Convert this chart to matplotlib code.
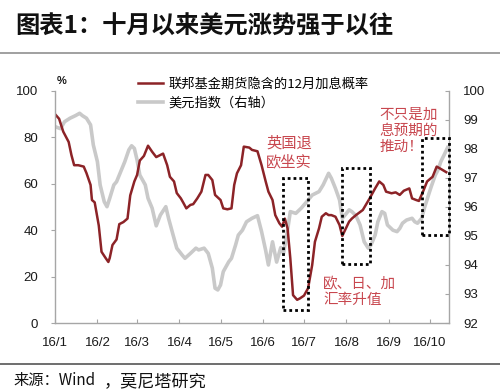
import matplotlib
matplotlib.use('Agg')
import matplotlib.pyplot as plt
import matplotlib.dates as mdates
import pandas as pd
from matplotlib.lines import Line2D
from matplotlib.patches import Rectangle

plt.rcParams['font.family'] = ['Liberation Sans', 'Noto Sans CJK SC', 'DejaVu Sans']

# ---------------- data ----------------
prob_dates = ['01-01', '01-04', '01-07', '01-11', '01-13', '01-15', '01-18', '01-22', '01-24', '01-27',
              '01-28', '01-30', '02-02', '02-04', '02-07', '02-09', '02-10', '02-12', '02-15', '02-17',
              '02-20', '02-23', '02-25', '02-28', '03-01', '03-03', '03-06', '03-09', '03-12', '03-15',
              '03-20', '03-23', '03-25', '03-28', '03-30', '04-02', '04-04', '04-06', '04-09', '04-11',
              '04-14', '04-17', '04-20', '04-22', '04-25', '04-27', '05-01', '05-03', '05-06', '05-09',
              '05-11', '05-13', '05-16', '05-18', '05-22', '05-24', '05-28', '05-31', '06-03', '06-05',
              '06-08', '06-10', '06-13', '06-15', '06-17', '06-19', '06-21', '06-23', '06-26', '06-28',
              '07-01', '07-04', '07-07', '07-09', '07-12', '07-14', '07-17', '07-19', '07-21', '07-24',
              '07-27', '07-29', '07-31', '08-03', '08-05', '08-08', '08-13', '08-18', '08-22', '08-25',
              '08-28', '08-30', '09-03', '09-06', '09-09', '09-12', '09-16', '09-18', '09-21', '09-23',
              '09-26', '09-29', '10-03', '10-06', '10-09', '10-13']
prob_values = [90, 88, 82.5, 78, 72.4, 68, 68, 67.4, 64.6, 59.5,
               53, 52, 42, 30.7, 28, 26.3, 28, 33.6, 36, 42.6,
               43.5, 45, 55, 61, 63.8, 70, 72, 76.4, 73.8, 71.5,
               73, 68, 63, 61, 56, 53.7, 51.6, 49.4, 50.9, 51.2,
               53.7, 56.6, 63.8, 63.8, 61.6, 55.2, 53, 49.4, 49, 49.4,
               59.5, 64.5, 68, 76, 75.6, 74.6, 74, 68, 61, 56.6,
               53, 46.5, 43, 41.5, 45, 40.8, 27.9, 12, 10, 10.6,
               11.8, 15, 25, 35, 40.8, 45.8, 47.3, 46.5, 46.5, 45.8,
               42.2, 37.5, 40, 43.7, 45, 46.5, 48.7, 53.7, 58, 61,
               59.5, 56.6, 55.9, 56.3, 55.2, 57, 58, 53.7, 53, 52.6,
               56.6, 61, 63, 67.4, 66.4, 65]

dxy_dates = ['01-01', '01-05', '01-08', '01-12', '01-16', '01-19', '01-21', '01-24', '01-27', '01-29',
             '02-01', '02-03', '02-06', '02-08', '02-10', '02-13', '02-15', '02-19', '02-21', '02-24',
             '02-26', '02-28', '03-01', '03-03', '03-07', '03-09', '03-12', '03-15', '03-18', '03-22',
             '03-24', '03-27', '03-30', '04-03', '04-05', '04-09', '04-13', '04-15', '04-19', '04-22',
             '04-25', '04-27', '04-29', '05-01', '05-03', '05-07', '05-09', '05-12', '05-14', '05-17',
             '05-20', '05-24', '05-28', '05-31', '06-03', '06-05', '06-08', '06-11', '06-14', '06-16',
             '06-19', '06-21', '06-25', '06-29', '07-03', '07-07', '07-12', '07-15', '07-19', '07-21',
             '07-24', '07-27', '07-29', '07-31', '08-03', '08-05', '08-08', '08-11', '08-14', '08-17',
             '08-19', '08-22', '08-24', '08-27', '08-29', '08-31', '09-04', '09-07', '09-09', '09-11',
             '09-14', '09-18', '09-20', '09-22', '09-25', '09-27', '09-30', '10-02', '10-05', '10-07',
             '10-09', '10-12', '10-14']
dxy_values = [98.77, 98.7, 98.94, 99.06, 99.15, 99.23, 99.15, 99.06, 98.83, 98.14,
              97.56, 96.76, 96.18, 96.01, 96.3, 96.76, 96.87, 97.33, 97.56, 97.97,
              98.11, 98.02, 97.62, 97.1, 96.76, 96.3, 95.96, 95.35, 95.72, 96.01,
              95.61, 95.09, 94.58, 94.34, 94.23, 94.4, 94.58, 94.52, 94.58, 94.4,
              93.89, 93.2, 93.14, 93.31, 93.77, 94.11, 94.23, 94.69, 95.03, 95.2,
              95.49, 95.61, 95.7, 95.15, 94.5, 94.0, 94.8, 94.1, 94.6, 94.4,
              95.2, 95.84, 95.78, 95.96, 96.18, 96.41, 96.53, 96.76, 97.16, 96.99,
              96.64, 96.24, 95.61, 95.72, 95.9, 95.84, 95.7, 95.38, 94.8, 94.58,
              94.69, 95.03, 95.49, 95.84, 95.78, 95.38, 95.2, 95.15, 95.26, 95.44,
              95.55, 95.61, 95.49, 95.44, 95.61, 95.96, 96.41, 96.7, 97.1, 97.28,
              97.56, 97.85, 98.05]

month_ticks = ['01-01', '02-01', '03-01', '04-01', '05-01', '06-01', '07-01', '08-01', '09-01', '10-01']
month_labels = ['16/1', '16/2', '16/3', '16/4', '16/5', '16/6', '16/7', '16/8', '16/9', '16/10']
left_ticks = [0, 20, 40, 60, 80, 100]
right_ticks = [92, 93, 94, 95, 96, 97, 98, 99, 100]

label_prob = '联邦基金期货隐含的12月加息概率'
label_dxy = '美元指数（右轴）'
title = '图表1：十月以来美元涨势强于以往'
source_a = '来源：Wind'
source_b = '，莫尼塔研究'

# highlight boxes: (start, end, low, high) on the left axis
boxes = [('06-16', '07-04', 5.6, 62.6),
         ('07-29', '08-18', 25.5, 67.0),
         ('09-25', '10-15', 38.0, 79.7)]


def to_dt(lst):
    return pd.to_datetime(['2016-' + s for s in lst])


RED = '#8c2327'
GRAY = '#c9c9c9'
SPINE = '#a6a6a6'
ANN = '#c8474f'

fig = plt.figure(figsize=(5.0, 3.92), dpi=100)
fig.patch.set_facecolor('white')
ax = fig.add_axes([0.11, 0.176, 0.788, 0.592])
ax2 = ax.twinx()

ax2.plot(to_dt(dxy_dates), dxy_values, color=GRAY, lw=2.6, solid_joinstyle='round')
ax.plot(to_dt(prob_dates), prob_values, color=RED, lw=1.8, solid_joinstyle='round')

ax.set_zorder(ax2.get_zorder() + 1)
ax.patch.set_visible(False)

ax.set_xlim(pd.Timestamp('2016-01-01'), pd.Timestamp('2016-10-15'))
ax.set_ylim(0, 100)
ax2.set_ylim(92, 100)

ax.set_xticks(to_dt(month_ticks))
ax.set_xticklabels(month_labels)
ax.set_yticks(left_ticks)
ax2.set_yticks(right_ticks)

for s in ['top', 'right']:
    ax.spines[s].set_visible(False)
for s in ['top', 'left', 'bottom']:
    ax2.spines[s].set_visible(False)
for s in ['left', 'bottom']:
    ax.spines[s].set_color(SPINE)
    ax.spines[s].set_linewidth(1.0)
ax2.spines['right'].set_color(SPINE)
ax2.spines['right'].set_linewidth(1.0)

ax.tick_params(axis='y', direction='out', length=3, width=0.8, color=SPINE,
               labelsize=9.5, pad=9, labelcolor='#1a1a1a')
ax.tick_params(axis='x', direction='in', length=3, width=0.8, color=SPINE,
               labelsize=9.5, pad=10, labelcolor='#1a1a1a')
ax2.tick_params(axis='y', direction='in', length=3, width=0.8, color=SPINE,
                labelsize=9.5, pad=10, labelcolor='#1a1a1a')

# dotted highlight boxes
for b in boxes:
    x0 = mdates.date2num(pd.Timestamp('2016-' + b[0]))
    x1 = mdates.date2num(pd.Timestamp('2016-' + b[1]))
    r = Rectangle((x0, b[2]), x1 - x0, b[3] - b[2], fill=False, edgecolor='black',
                  lw=2.0, linestyle=(0, (1, 1.1)), clip_on=False, zorder=5)
    ax.add_patch(r)

# annotations
ax.text(pd.Timestamp('2016-06-20'), 73.5, '英国退\n欧坐实', color=ANN, fontsize=11,
        ha='center', va='center', linespacing=1.15, family=['Noto Sans CJK SC'])
ax.text(pd.Timestamp('2016-08-25'), 83.0, '不只是加\n息预期的\n推动！', color=ANN, fontsize=10.5,
        ha='left', va='center', linespacing=1.2, family=['Noto Sans CJK SC'])
ax.text(pd.Timestamp('2016-07-15'), 13.1, '欧、日、加\n汇率升值', color=ANN, fontsize=10.5,
        ha='left', va='center', linespacing=1.15, family=['Noto Sans CJK SC'])

# legend
handles = [Line2D([], [], color=RED, lw=1.8), Line2D([], [], color=GRAY, lw=2.6)]
leg = ax.legend(handles, [label_prob, label_dxy], loc='upper left',
                bbox_to_anchor=(138 / 500, 1 - 78 / 392), bbox_transform=fig.transFigure,
                frameon=False, handlelength=1.9, handletextpad=0.4,
                labelspacing=0.45, borderpad=0, borderaxespad=0,
                prop={'family': ['Noto Sans CJK SC'], 'size': 9.5})

fig.text(57 / 500, 1 - 81 / 392, '%', fontsize=8, fontweight='bold', ha='left', va='center',
         color='#1a1a1a')

# title and frame lines
fig.text(15 / 500, 1 - 27 / 392, title, fontsize=17.5, fontweight='bold', ha='left', va='center',
         family=['Noto Sans CJK SC'], color='#111111')
fig.add_artist(Line2D([0, 1], [1 - 53 / 392, 1 - 53 / 392], color='#a0a0a0', lw=1.4,
                      transform=fig.transFigure))
fig.add_artist(Line2D([0, 1], [1 - 364 / 392, 1 - 364 / 392], color='#555555', lw=1.2,
                      transform=fig.transFigure))
fig.text(13 / 500, 1 - 381 / 392, source_a, fontsize=11, ha='left', va='center',
         family=['Noto Sans CJK SC'], color='#111111')
fig.text(104 / 500, 1 - 381 / 392, source_b, fontsize=12.3, ha='left', va='center',
         family=['Noto Sans CJK SC'], color='#111111')

fig.savefig('out.png', dpi=100, facecolor='white')
